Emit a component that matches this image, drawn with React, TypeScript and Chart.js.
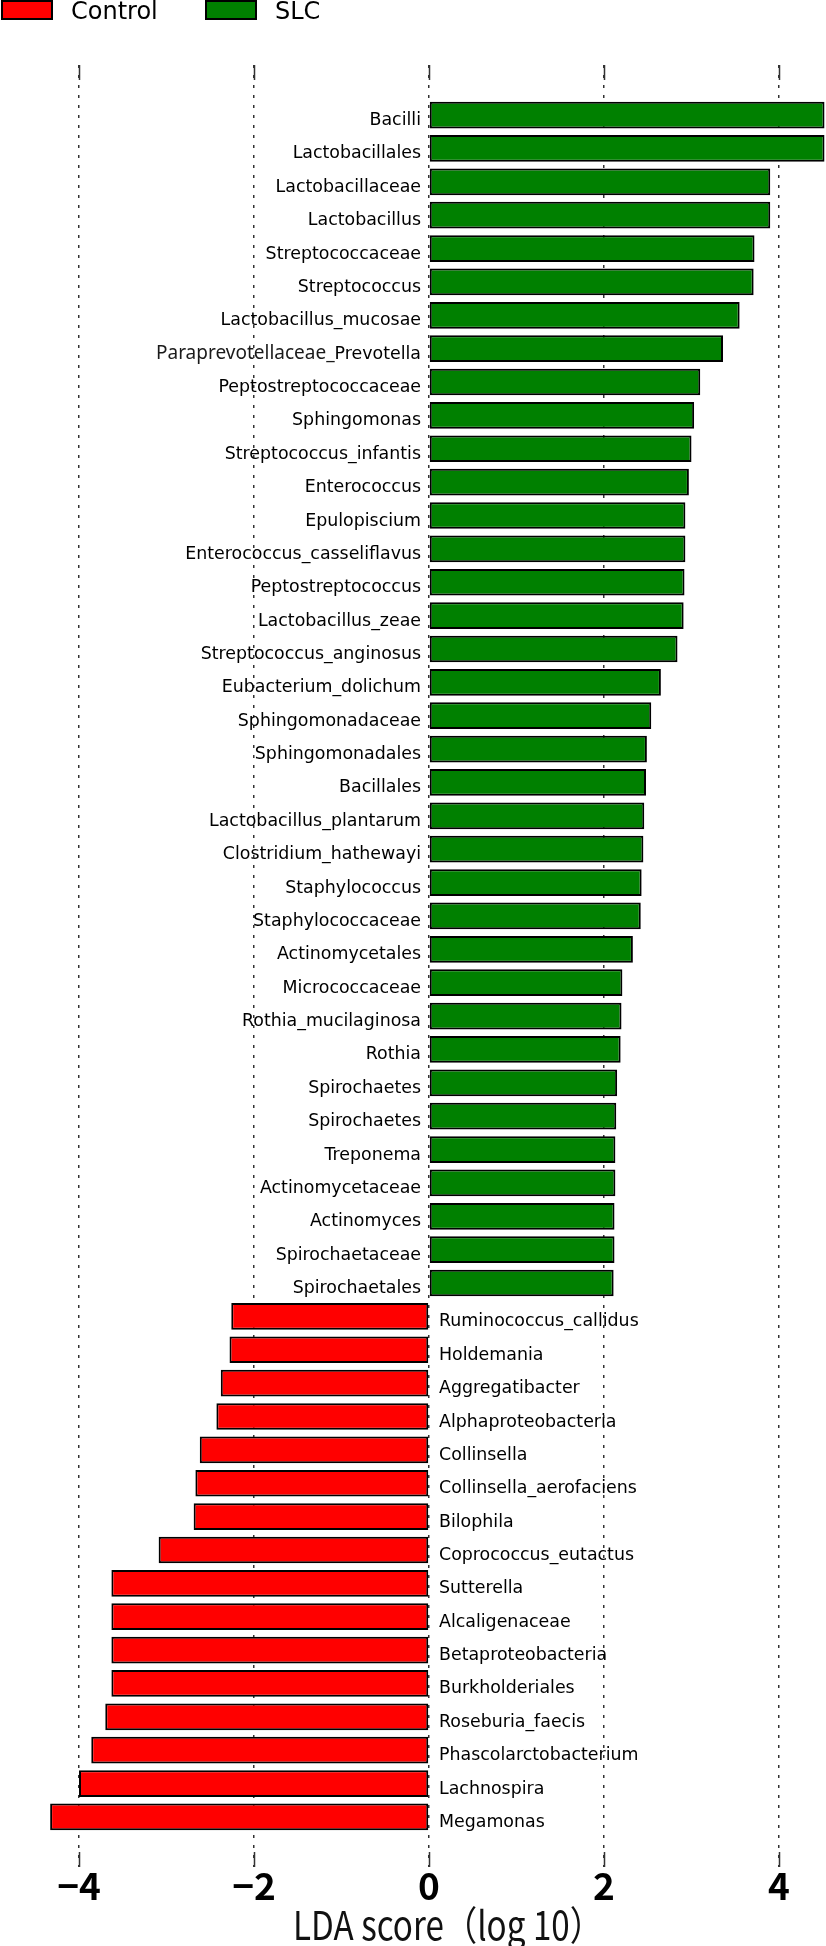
import React, { useEffect, useRef } from 'react';
import { Chart, registerables } from 'chart.js';

Chart.register(...registerables);

const slcNames = [
  'Bacilli', 'Lactobacillales', 'Lactobacillaceae', 'Lactobacillus', 'Streptococcaceae', 'Streptococcus',
  'Lactobacillus_mucosae', 'Paraprevotellaceae_Prevotella', 'Peptostreptococcaceae', 'Sphingomonas',
  'Streptococcus_infantis', 'Enterococcus', 'Epulopiscium', 'Enterococcus_casseliflavus', 'Peptostreptococcus',
  'Lactobacillus_zeae', 'Streptococcus_anginosus', 'Eubacterium_dolichum', 'Sphingomonadaceae', 'Sphingomonadales',
  'Bacillales', 'Lactobacillus_plantarum', 'Clostridium_hathewayi', 'Staphylococcus', 'Staphylococcaceae',
  'Actinomycetales', 'Micrococcaceae', 'Rothia_mucilaginosa', 'Rothia', 'Spirochaetes', 'Spirochaetes',
  'Treponema', 'Actinomycetaceae', 'Actinomyces', 'Spirochaetaceae', 'Spirochaetales',
];
const slcScores = [
  4.52, 4.52, 3.90, 3.90, 3.72, 3.71,
  3.55, 3.36, 3.10, 3.03,
  3.00, 2.97, 2.93, 2.93, 2.92,
  2.91, 2.84, 2.65, 2.54, 2.49,
  2.48, 2.46, 2.45, 2.43, 2.42,
  2.33, 2.21, 2.20, 2.19, 2.15, 2.14,
  2.13, 2.13, 2.12, 2.12, 2.11,
];
const controlNames = [
  'Ruminococcus_callidus', 'Holdemania', 'Aggregatibacter', 'Alphaproteobacteria', 'Collinsella',
  'Collinsella_aerofaciens', 'Bilophila', 'Coprococcus_eutactus', 'Sutterella', 'Alcaligenaceae',
  'Betaproteobacteria', 'Burkholderiales', 'Roseburia_faecis', 'Phascolarctobacterium', 'Lachnospira', 'Megamonas',
];
const controlScores = [
  -2.26, -2.28, -2.38, -2.43, -2.62,
  -2.67, -2.69, -3.09, -3.63, -3.63,
  -3.63, -3.63, -3.70, -3.86, -4.00, -4.33,
];
const xTicks = [-4, -2, 0, 2, 4];
const X_MIN = -4.903;
const X_MAX = 4.537;
const LIGHT_PREFIX = 'Paraprevotellaceae_';
const xTitle = 'LDA score（log 10）';
const legendItems = [
  { label: 'Control', color: '#ff0000' },
  { label: 'SLC', color: '#008000' },
];

export default function App() {
  const ref = useRef<HTMLCanvasElement>(null);

  useEffect(() => {
    document.body.style.margin = '0';
    const canvas = ref.current;
    if (!canvas) return;
    const nameLists = [slcNames, controlNames];
    const scoreLists = [slcScores, controlScores];
    const labelFont = '17.4px "DejaVu Sans"';

    const overlay = {
      id: 'lefseOverlay',
      afterDraw(chart: any) {
        const ctx = chart.ctx as CanvasRenderingContext2D;
        const xs = chart.scales.x;
        const area = chart.chartArea;
        const zero = xs.getPixelForValue(0);
        ctx.save();
        // inward tick marks top & bottom
        ctx.strokeStyle = '#333';
        ctx.lineWidth = 1.5;
        ctx.setLineDash([]);
        xTicks.forEach((v) => {
          const px = Math.round(xs.getPixelForValue(v)) + 0.5;
          ctx.beginPath();
          ctx.moveTo(px, area.top);
          ctx.lineTo(px, area.top + 15);
          ctx.moveTo(px, area.bottom - 15);
          ctx.lineTo(px, area.bottom);
          ctx.stroke();
        });
        // category labels
        ctx.textBaseline = 'alphabetic';
        nameLists.forEach((names, di) => {
          const meta = chart.getDatasetMeta(di);
          meta.data.forEach((el: any, i: number) => {
            const name = names[i];
            const val = scoreLists[di][i];
            const y = el.y + 10;
            ctx.fillStyle = '#000';
            if (val >= 0) {
              const xr = zero - 8;
              ctx.textAlign = 'right';
              ctx.font = labelFont;
              if (name.startsWith(LIGHT_PREFIX)) {
                const rest = name.slice(LIGHT_PREFIX.length);
                ctx.fillText(rest, xr, y);
                const w = ctx.measureText(rest).width;
                ctx.font = '19px "Noto Sans"';
                ctx.fillStyle = '#1a1a1a';
                ctx.fillText(LIGHT_PREFIX, xr - w, y);
              } else {
                ctx.fillText(name, xr, y);
              }
            } else {
              ctx.font = labelFont;
              ctx.textAlign = 'left';
              ctx.fillText(name, zero + 10, y);
            }
          });
        });
        // legend
        const legendX = [2, 206];
        legendItems.forEach((it, i) => {
          ctx.fillStyle = it.color;
          ctx.fillRect(legendX[i], 1, 50, 18);
          ctx.strokeStyle = '#000';
          ctx.lineWidth = 2;
          ctx.strokeRect(legendX[i], 1, 50, 18);
          ctx.fillStyle = '#000';
          ctx.font = '24px "DejaVu Sans"';
          ctx.textAlign = 'left';
          ctx.textBaseline = 'alphabetic';
          ctx.fillText(it.label, legendX[i] + 69, 19);
        });
        // axis title
        ctx.font = '40px "Noto Sans CJK SC"';
        ctx.textAlign = 'left';
        ctx.textBaseline = 'alphabetic';
        ctx.fillStyle = '#111';
        const tw = ctx.measureText(xTitle).width;
        const sx = 310 / tw;
        ctx.translate(293, 1940);
        ctx.scale(sx, 1);
        ctx.fillText(xTitle, 0, 0);
        ctx.restore();
      },
    };

    const chart = new Chart(canvas, {
      type: 'bar',
      data: {
        datasets: [
          {
            label: 'SLC',
            data: slcNames.map((_, i) => ({ x: slcScores[i], y: i })),
            backgroundColor: '#008000',
          },
          {
            label: 'Control',
            data: controlNames.map((_, i) => ({ x: controlScores[i], y: slcNames.length + i })),
            backgroundColor: '#ff0000',
          },
        ],
      } as any,
      options: {
        indexAxis: 'y',
        responsive: false,
        animation: false,
        devicePixelRatio: 1,
        layout: { padding: { top: 65, bottom: 42, left: 0, right: 0 } },
        datasets: {
          bar: {
            grouped: false,
            barPercentage: 0.8,
            categoryPercentage: 1,
            borderColor: '#000',
            borderWidth: 2,
            borderSkipped: false,
          },
        },
        plugins: { legend: { display: false }, tooltip: { enabled: false } },
        scales: {
          x: {
            type: 'linear',
            position: 'bottom',
            min: X_MIN,
            max: X_MAX,
            z: 1,
            afterBuildTicks: (axis: any) => {
              axis.ticks = xTicks.map((v) => ({ value: v }));
            },
            grid: { color: '#333', lineWidth: 1.5, drawTicks: false },
            border: { display: false, dash: [3, 7] },
            ticks: {
              color: '#000',
              padding: 0,
              font: { family: '"Noto Sans CJK SC"', size: 37, weight: 'bold', lineHeight: 1 },
              callback: (v: any) => (Number(v) < 0 ? '\u2212' + Math.abs(Number(v)) : String(v)),
            },
          },
          y: {
            type: 'linear',
            min: -1,
            max: slcNames.length + controlNames.length,
            reverse: true,
            display: false,
            ticks: { stepSize: 1 },
          },
        },
      } as any,
      plugins: [overlay],
    });
    return () => chart.destroy();
  }, []);

  return (
    <div style={{ width: 826, height: 1946 }}>
      <canvas ref={ref} width={826} height={1946} style={{ display: 'block' }} />
    </div>
  );
}
